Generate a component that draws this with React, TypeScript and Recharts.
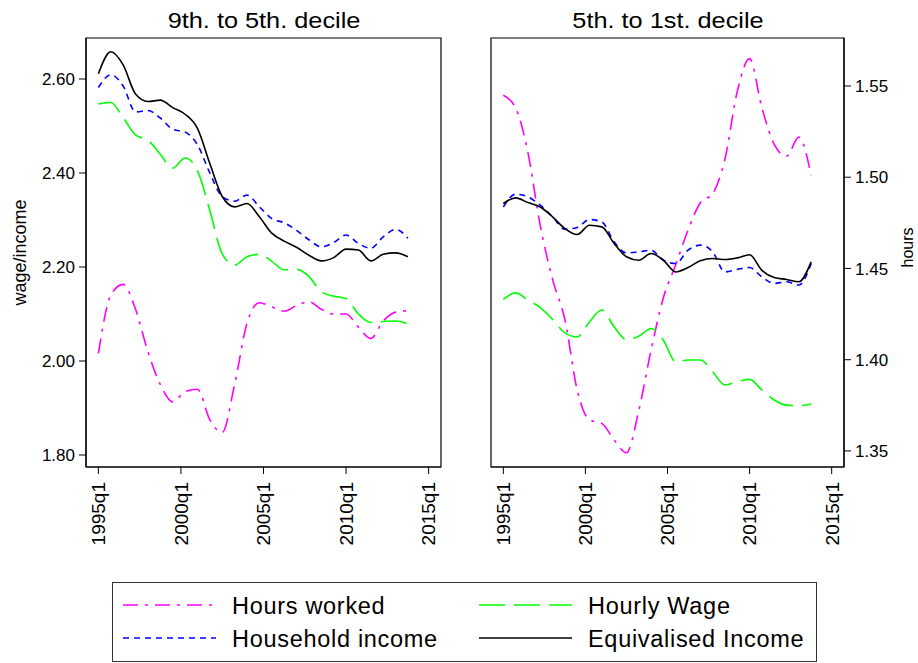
import React from 'react';
import { LineChart, Line, XAxis, YAxis, Label, ReferenceArea } from 'recharts';

// quarter index: 0 = 1995q1
const quarters = [0, 3, 6, 9, 12, 15, 18, 21, 24, 27, 30, 33, 36, 39, 42, 45, 48, 51, 54, 57, 60, 63, 66, 69, 72, 75];
const xTicks = [0, 20, 40, 60, 80];
const xDomain = [-3, 83];

// 9th. to 5th. decile
const hoursTop = [2.016, 2.14, 2.163, 2.11, 2.02, 1.95, 1.913, 1.935, 1.94, 1.875, 1.848, 1.95, 2.08, 2.124, 2.115, 2.106, 2.118, 2.126, 2.11, 2.1, 2.1, 2.072, 2.048, 2.085, 2.104, 2.107];
const householdTop = [2.582, 2.609, 2.585, 2.53, 2.533, 2.517, 2.493, 2.487, 2.46, 2.4, 2.35, 2.34, 2.353, 2.328, 2.303, 2.294, 2.278, 2.258, 2.243, 2.252, 2.268, 2.25, 2.24, 2.264, 2.28, 2.261];
const wageTop = [2.547, 2.55, 2.518, 2.481, 2.47, 2.44, 2.41, 2.432, 2.405, 2.32, 2.228, 2.204, 2.222, 2.227, 2.212, 2.194, 2.195, 2.18, 2.147, 2.138, 2.133, 2.1, 2.082, 2.084, 2.085, 2.079];
const equivTop = [2.611, 2.658, 2.63, 2.568, 2.552, 2.555, 2.539, 2.525, 2.495, 2.42, 2.35, 2.328, 2.335, 2.307, 2.272, 2.255, 2.242, 2.225, 2.213, 2.22, 2.238, 2.236, 2.213, 2.227, 2.23, 2.222];

// 5th. to 1st. decile
const hoursBottom = [1.5449, 1.538, 1.5135, 1.4735, 1.444, 1.422, 1.3834, 1.367, 1.3651, 1.356, 1.349, 1.372, 1.4053, 1.434, 1.452, 1.471, 1.486, 1.491, 1.51, 1.547, 1.565, 1.538, 1.518, 1.5115, 1.522, 1.501];
const householdBottom = [1.4837, 1.4907, 1.4892, 1.4847, 1.4783, 1.4715, 1.4725, 1.4768, 1.4755, 1.4646, 1.4585, 1.4591, 1.46, 1.4545, 1.4527, 1.46, 1.4628, 1.4591, 1.4481, 1.4495, 1.4505, 1.4454, 1.4418, 1.4427, 1.4409, 1.4527];
const wageBottom = [1.433, 1.4366, 1.4326, 1.4286, 1.4221, 1.4147, 1.4125, 1.4208, 1.4272, 1.418, 1.4111, 1.4129, 1.4171, 1.4107, 1.3989, 1.3998, 1.3998, 1.3934, 1.3861, 1.3879, 1.3892, 1.3834, 1.3779, 1.3751, 1.3748, 1.3757];
const equivBottom = [1.4856, 1.4887, 1.4861, 1.4837, 1.4783, 1.4719, 1.4686, 1.4737, 1.4728, 1.4637, 1.4564, 1.4545, 1.4582, 1.4545, 1.4481, 1.4505, 1.4542, 1.4555, 1.4549, 1.4558, 1.4575, 1.449, 1.445, 1.444, 1.4427, 1.4536];

const leftTicks = [1.8, 2.0, 2.2, 2.4, 2.6];
const rightTicks = [1.35, 1.4, 1.45, 1.5, 1.55];
const leftDomain = [1.7745, 2.6872];
const rightDomain = [1.3412, 1.5763];

const seriesKeys = ['hours', 'household', 'wage', 'equiv'];
const seriesNames = ['Hours worked', 'Household income', 'Hourly Wage', 'Equivalised Income'];
const seriesColors = ['#ff00ff', '#0000ff', '#00ff00', '#000000'];
const seriesDash = ['15 7 3 7', '6 5', '26 9', undefined];

const buildRows = (hours: number[], household: number[], wage: number[], equiv: number[]) =>
  quarters.map((q, i) => ({ q, hours: hours[i], household: household[i], wage: wage[i], equiv: equiv[i] }));

const topRows = buildRows(hoursTop, householdTop, wageTop, equivTop);
const bottomRows = buildRows(hoursBottom, householdBottom, wageBottom, equivBottom);

const FONT = '"Liberation Sans", Arial, Helvetica, sans-serif';
const frame = { stroke: '#000', strokeWidth: 1.2 };
const qLabel = (q: number) => `${1995 + q / 4}q1`;

const QuarterTick = (props: any) => {
  const { x, y, payload } = props;
  return (
    <text x={x} y={y} transform={`rotate(-90 ${x} ${y})`} textAnchor="end" dy="0.36em" fontSize={19} fill="#000">
      {qLabel(payload.value)}
    </text>
  );
};

const seriesLines = () =>
  seriesKeys.map((k, i) => (
    <Line
      key={k}
      yAxisId="main"
      type="monotone"
      dataKey={k}
      stroke={seriesColors[i]}
      strokeWidth={1.6}
      strokeDasharray={seriesDash[i]}
      dot={false}
      activeDot={false}
      isAnimationActive={false}
    />
  ));

// plot region outline
const plotFrame = (domain: number[]) => (
  <ReferenceArea
    yAxisId="main"
    x1={xDomain[0]}
    x2={xDomain[1]}
    y1={domain[0]}
    y2={domain[1]}
    fill="none"
    stroke="#000"
    strokeWidth={1.2}
    ifOverflow="visible"
  />
);

const xAxis = () => (
  <XAxis
    dataKey="q"
    type="number"
    domain={xDomain}
    ticks={xTicks}
    interval={0}
    allowDataOverflow
    height={90}
    tickSize={7}
    tickMargin={8}
    axisLine={frame}
    tickLine={{ stroke: '#000' }}
    tick={<QuarterTick />}
  />
);

const Legend4 = () => (
  <div
    style={{
      position: 'absolute',
      left: 112,
      top: 582,
      width: 705,
      height: 80,
      border: '1px solid #333',
      boxSizing: 'border-box',
    }}
  >
    <svg width={703} height={78}>
      {seriesNames.map((name, i) => {
        const col = Math.floor(i / 2);
        const row = i % 2;
        const x0 = col === 0 ? 10 : 366;
        const ly = row === 0 ? 22 : 55;
        return (
          <g key={name}>
            <line x1={x0} x2={x0 + 93} y1={ly} y2={ly} stroke={seriesColors[i]} strokeWidth={1.6} strokeDasharray={seriesDash[i]} />
            <text x={x0 + 109} y={ly + 8.5} fontSize={23.5} letterSpacing={0.7} fill="#000" fontFamily={FONT}>
              {name}
            </text>
          </g>
        );
      })}
    </svg>
  </div>
);

const titleStyle = (center: number): React.CSSProperties => ({
  position: 'absolute',
  left: center - 150,
  width: 300,
  top: 10,
  textAlign: 'center',
  fontSize: 22,
  lineHeight: '22px',
  transform: 'scaleX(1.15)',
  color: '#000',
});

export default function App() {
  return (
    <div style={{ position: 'absolute', left: 0, top: 0, width: 918, height: 663, background: '#fff', fontFamily: FONT }}>
      <div style={titleStyle(263.5)}>9th. to 5th. decile</div>
      <div style={titleStyle(667.5)}>5th. to 1st. decile</div>

      <div style={{ position: 'absolute', left: 0, top: 0 }}>
        <LineChart width={460} height={560} data={topRows} margin={{ top: 38, right: 19, bottom: 3, left: 0 }}>
          {xAxis()}
          <YAxis
            yAxisId="main"
            type="number"
            domain={leftDomain}
            allowDataOverflow
            ticks={leftTicks}
            interval={0}
            width={86}
            tickSize={7}
            tickMargin={4}
            axisLine={frame}
            tickLine={{ stroke: '#000' }}
            tick={{ fill: '#000', fontSize: 17 }}
            tickFormatter={(v: number) => v.toFixed(2)}
          >
            <Label value="wage/income" angle={-90} position="center" dx={-23} fontSize={18} fill="#000" />
          </YAxis>
          {plotFrame(leftDomain)}
          {seriesLines()}
        </LineChart>
      </div>

      <div style={{ position: 'absolute', left: 460, top: 0 }}>
        <LineChart width={458} height={560} data={bottomRows} margin={{ top: 38, right: 0, bottom: 3, left: 31 }}>
          {xAxis()}
          <YAxis
            yAxisId="main"
            orientation="right"
            type="number"
            domain={rightDomain}
            allowDataOverflow
            ticks={rightTicks}
            interval={0}
            width={74}
            tickSize={7}
            tickMargin={4}
            axisLine={frame}
            tickLine={{ stroke: '#000' }}
            tick={{ fill: '#000', fontSize: 17 }}
            tickFormatter={(v: number) => v.toFixed(2)}
          >
            <Label value="hours" angle={-90} position="center" dx={26} dy={-5} fontSize={16} fill="#000" />
          </YAxis>
          {plotFrame(rightDomain)}
          {seriesLines()}
        </LineChart>
      </div>

      <Legend4 />
    </div>
  );
}
